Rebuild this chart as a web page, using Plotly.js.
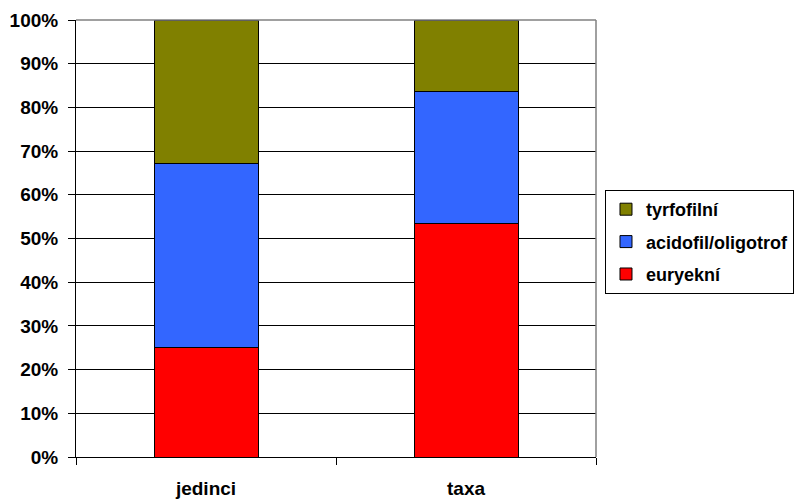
<!DOCTYPE html>
<html><head><meta charset="utf-8">
<script src="https://cdn.plot.ly/plotly-3.0.1.min.js"></script>
<style>html,body{margin:0;padding:0;background:#fff}#c{width:798px;height:502px}</style>
</head><body><div id="c"></div>
<script>
const categories = ["jedinci", "taxa"];
const euryekni = [25.0, 53.4];
const acidofil = [42.1, 30.3];
const tyrfofilni = [32.9, 16.3];
const seriesNames = ["euryekní", "acidofil/oligotrof", "tyrfofilní"];
const colors = ["#FF0000", "#3366FF", "#808000"];
const yTickVals = [0,10,20,30,40,50,60,70,80,90,100];
const yTickText = ["0%","10%","20%","30%","40%","50%","60%","70%","80%","90%","100%"];

const F = "Arial, 'Liberation Sans', sans-serif";
const vals = [euryekni, acidofil, tyrfofilni];
const traces = vals.map((v, i) => ({
  type: "bar", x: categories, y: v, name: seriesNames[i], legendgroup: "g" + i,
  legendrank: 3 - i,
  marker: {color: colors[i], line: {color: "#000", width: 1}},
  width: 0.4
}));

const layout = {
  width: 798, height: 502,
  margin: {l: 76, r: 202, t: 20, b: 45, autoexpand: false},
  paper_bgcolor: "#fff", plot_bgcolor: "#fff",
  barmode: "stack",
  showlegend: true,
  font: {family: F, size: 19, color: "#000", weight: "bold"},
  xaxis: {
    type: "category", tickson: "boundaries", ticks: "outside", ticklen: 7, tickcolor: "#000",
    showline: true, linecolor: "#000", linewidth: 1, showgrid: false,
    tickfont: {family: F, size: 19, color: "#000", weight: "bold"},
    ticklabelstandoff: 14, fixedrange: true, automargin: false
  },
  yaxis: {
    range: [0, 100], tickvals: yTickVals, ticktext: yTickText,
    ticks: "outside", ticklen: 7, tickcolor: "#000",
    showline: true, linecolor: "#000", linewidth: 1,
    showgrid: true, gridcolor: "#000", gridwidth: 1,
    zeroline: false,
    tickfont: {family: F, size: 19, color: "#000", weight: "bold"},
    ticklabelstandoff: 6, fixedrange: true, automargin: false
  },
  legend: {
    x: 1.0173, y: 0.611, xanchor: "left", yanchor: "top",
    traceorder: "grouped", tracegroupgap: 6,
    bordercolor: "#000", borderwidth: 1, bgcolor: "#fff",
    font: {family: F, size: 18, color: "#000", weight: "bold"}
  },
  shapes: [
    {type: "line", xref: "paper", yref: "paper", x0: 0, x1: 1, y0: 1, y1: 1, line: {color: "#808080", width: 1.5}},
    {type: "line", xref: "paper", yref: "paper", x0: 1, x1: 1, y0: 0, y1: 1, line: {color: "#808080", width: 1.5}}
  ]
};
Plotly.newPlot("c", traces, layout, {displayModeBar: false, staticPlot: true});
</script></body></html>
